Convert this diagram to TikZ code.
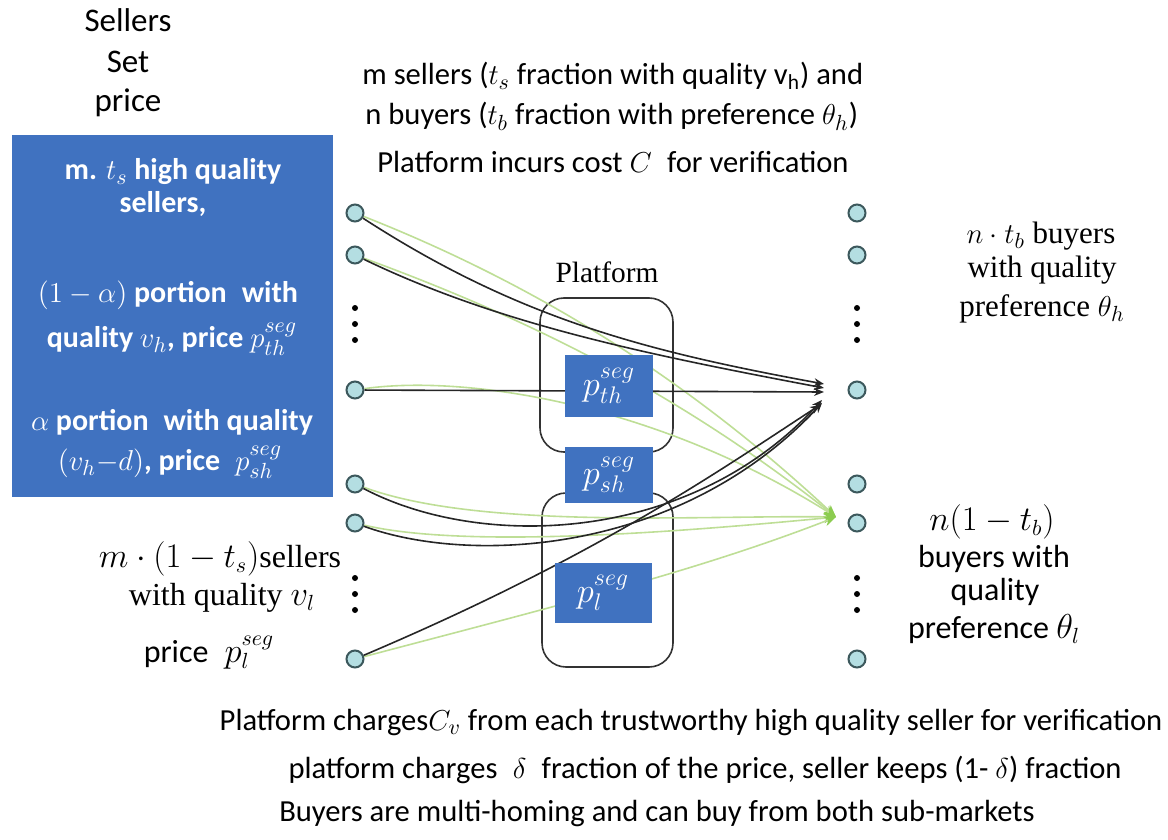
\documentclass[tikz,border=0pt]{standalone}
\usepackage{fontspec}
\setmainfont{Carlito}
\newfontfamily\serifx{Liberation Serif}
\usetikzlibrary{arrows.meta}
\definecolor{boxblue}{RGB}{64,114,192}
\definecolor{dotfill}{RGB}{180,222,226}
\definecolor{dotline}{RGB}{60,88,92}
\definecolor{lgreen}{RGB}{190,222,150}
\definecolor{dgreen}{RGB}{140,204,80}
\tikzset{
  pnode/.style={circle,draw=dotline,fill=dotfill,line width=1pt,minimum size=8.5pt,inner sep=0pt},
  vdot/.style={fill=black},
  bluebox/.style={fill=boxblue,text=white,inner sep=0pt},
  btxt/.style={text=white,anchor=base,inner sep=0pt,font=\bfseries\fontsize{15}{17}\selectfont},
  blk/.style={draw=black!85,line width=0.8pt,-{Stealth[length=5pt,width=4pt]}},
  grn/.style={draw=lgreen,line width=0.8pt,-{Stealth[length=6pt,width=5pt,fill=dgreen,color=dgreen]}},
  platbox/.style={draw=black!80,line width=0.8pt,rounded corners=12pt},
  txt/.style={font=\fontsize{15.3}{18}\selectfont,anchor=base,inner sep=0pt},
  stxt/.style={font=\serifx\fontsize{15.5}{18}\selectfont,anchor=base,inner sep=0pt},
}
\begin{document}
\begin{tikzpicture}[x=0.5pt,y=-0.5pt]
\useasboundingbox (0,0) rectangle (1168,840);
% platform outlines
\draw[platbox] (540,298) rectangle (673,452);
\draw[platbox] (542,493) rectangle (673,667);
\node[stxt,font=\serifx\fontsize{14.7}{17}\selectfont] (plat) at (607,282) {Platform};
% nodes
\foreach \i/\y in {1/213,2/255,3/390,4/484,5/523,6/659}{
  \node[pnode] (L\i) at (355,\y) {};
  \node[pnode] (R\i) at (857,\y) {};
}
\foreach \y in {308,324,340,578,594,610}{
  \fill[vdot] (355,\y) circle (1.5pt);
  \fill[vdot] (857,\y) circle (1.5pt);
}
\coordinate (Ta) at (824,384);
\coordinate (Tb) at (824,388);
\coordinate (Tc) at (824,392);
\coordinate (Td) at (822,400);
\coordinate (Te) at (822,403);
\coordinate (Tf) at (820,405);
\coordinate (G) at (836,517);
% green connectors
\draw[grn] (L1) .. controls (550,290) and (700,390) .. (G);
\draw[grn] (L2) .. controls (560,330) and (700,410) .. (G);
\draw[grn] (L3) .. controls (460,375) and (650,400) .. (G);
\draw[grn] (L4) .. controls (480,530) and (700,515) .. (G);
\draw[grn] (L5) .. controls (470,550) and (700,530) .. (G);
\draw[grn] (L6) .. controls (560,605) and (700,570) .. (G);
% black connectors
\draw[blk] (L1) .. controls (520,320) and (650,352) .. (Ta);
\draw[blk] (L2) .. controls (500,325) and (650,355) .. (Tb);
\draw[blk] (L3) -- (Tc);
\draw[blk] (L4) .. controls (480,550) and (690,545) .. (Td);
\draw[blk] (L5) .. controls (470,565) and (680,555) .. (Te);
\draw[blk] (L6) .. controls (600,555) and (720,470) .. (Tf);
% platform price boxes
\node[bluebox,minimum width=44pt,minimum height=31pt] (pth) at (609,386) {\fontsize{17}{20}\selectfont$p_{th}^{seg}$};
\node[bluebox,minimum width=44pt,minimum height=28pt] (psh) at (609,475) {\fontsize{17}{20}\selectfont$p_{sh}^{seg}$};
\node[bluebox,minimum width=48.5pt,minimum height=30pt] (pl) at (603,593) {\fontsize{17}{20}\selectfont$p_{l}^{seg}$};
% seller box
\node[bluebox,minimum width=160.5pt,minimum height=181pt] (sbox) at (172.5,316) {};
\node[btxt] (s1) at (173,180) {m. $t_s$ high quality};
\node[btxt] (s2) at (163,213) {sellers,};
\node[btxt] (s3) at (168,302) {$(1-\alpha)$ portion\enspace with};
\node[btxt] (s4) at (172,347) {quality $v_h$, price $p_{th}^{seg}$};
\node[btxt] (s5) at (172,430) {$\alpha$ portion\enspace with quality};
\node[btxt] (s6) at (170,470) {$(v_h{-}d)$, price\enspace $p_{sh}^{seg}$};
% texts
\node[txt,font=\fontsize{16.5}{19}\selectfont] (t1) at (128,32) {Sellers};
\node[txt,font=\fontsize{16.5}{19}\selectfont] (t2) at (128,73) {Set};
\node[txt,font=\fontsize{16.5}{19}\selectfont] (t3) at (128,112) {price};
\node[txt,anchor=base west] (top1) at (362,85) {m sellers ($t_s$ fraction with quality v$_{\mathrm{h}}$) and};
\node[txt,anchor=base west] (top2) at (365,125) {n buyers ($t_b$ fraction with preference $\theta_h$)};
\node[txt,anchor=base west] (top3) at (377,173) {Platform incurs cost $C$\enspace for verification};
\node[stxt] (r1) at (1041,243) {$n\cdot t_b$ buyers};
\node[stxt] (r2) at (1042,278) {with quality};
\node[stxt] (r3) at (1042,316) {preference $\theta_h$};
\node[txt,font=\fontsize{16}{18}\selectfont] (q1) at (992,530) {$n(1-t_b)$};
\node[txt,font=\fontsize{16}{18}\selectfont] (q2) at (994,567) {buyers with};
\node[txt,font=\fontsize{16}{18}\selectfont] (q3) at (995,600) {quality};
\node[txt,font=\fontsize{16}{18}\selectfont] (q4) at (994,638) {preference $\theta_l$};
\node[stxt,font=\serifx\fontsize{16}{18}\selectfont] (m1) at (220,567) {$m\cdot(1-t_s)$sellers};
\node[stxt,font=\serifx\fontsize{16}{18}\selectfont] (m2) at (222,605) {with quality $v_l$};
\node[txt,font=\fontsize{16}{18}\selectfont] (lprice) at (209,662) {price\enspace$p_l^{seg}$};
\node[txt] (b1) at (691,730) {Platform charges$C_v$ from each trustworthy high quality seller for verification};
\node[txt] (b2) at (705,778) {platform charges\enspace $\delta$\enspace fraction of the price, seller keeps (1- $\delta$) fraction};
\node[txt] (b3) at (657,821) {Buyers are multi-homing and can buy from both sub-markets};
\end{tikzpicture}
\end{document}
